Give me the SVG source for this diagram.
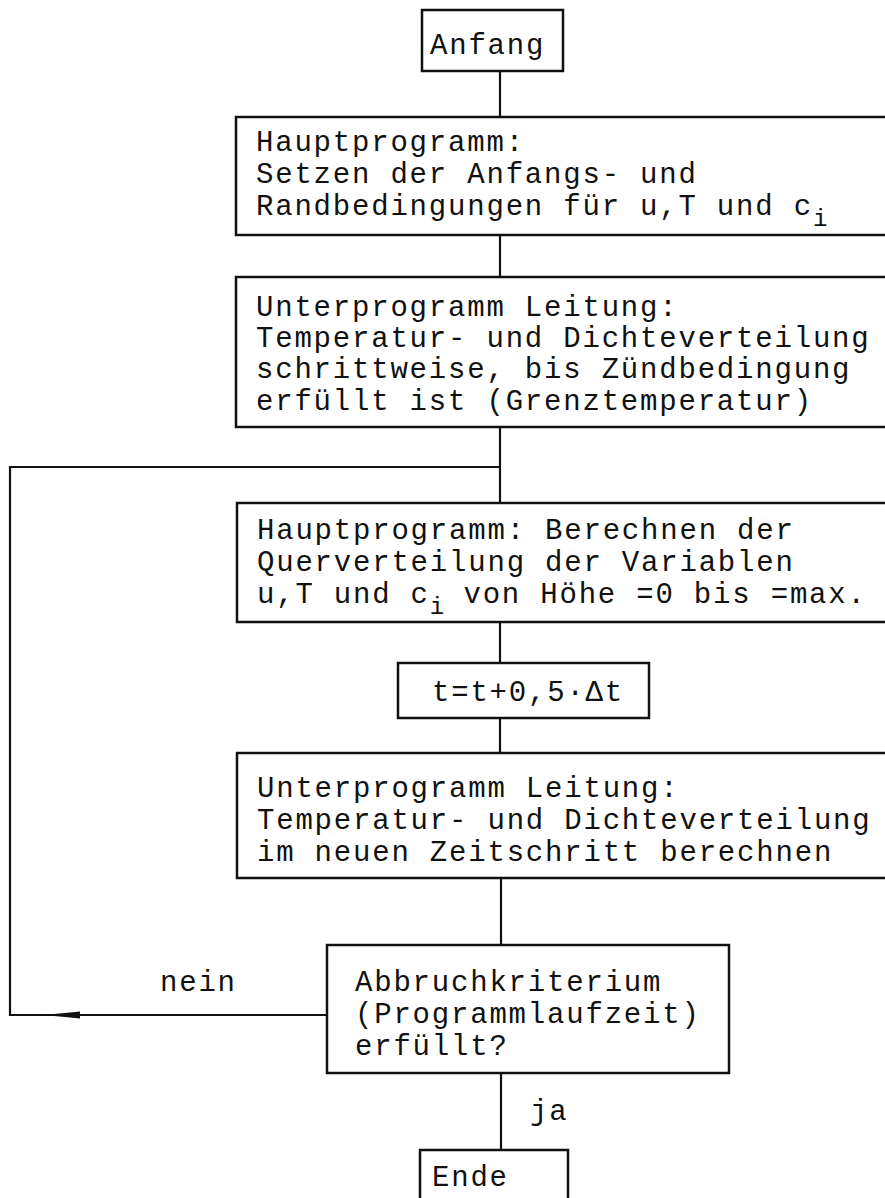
<svg xmlns="http://www.w3.org/2000/svg" width="885" height="1198" viewBox="0 0 885 1198">
<style>
.box{fill:#fff;stroke:#111;stroke-width:2.5}
.ln{fill:none;stroke:#111;stroke-width:2.2}
text{font-family:"Liberation Mono","Courier New",monospace;font-size:29px;letter-spacing:1.8px;fill:#111}
.sub{font-size:24px;letter-spacing:0}
</style>
<rect width="885" height="1198" fill="#fff"/>
<g id="connectors">
<path class="ln" d="M500 71V117"/>
<path class="ln" d="M500 235V277"/>
<path class="ln" d="M500 427V503"/>
<path class="ln" d="M500 622V663"/>
<path class="ln" d="M500 718V753"/>
<path class="ln" d="M501 878V945"/>
<path class="ln" d="M501 1073V1150"/>
<path class="ln" d="M327 1015H10V467H500"/>
<polygon points="44,1015 80,1011.5 80,1018.5" fill="#111"/>
<text x="530" y="1120">ja</text>
<text x="160" y="991">nein</text>
</g>
<g id="anfang">
<rect class="box" x="422" y="10" width="141" height="61"/>
<text x="430" y="54">Anfang</text>
</g>
<g id="haupt1">
<rect class="box" x="236" y="117" width="660" height="118"/>
<text x="256" y="151">Hauptprogramm:</text>
<text x="256" y="183">Setzen der Anfangs- und</text>
<text x="256" y="215">Randbedingungen für u,T und c<tspan class="sub" dy="11">i</tspan></text>
</g>
<g id="leitung1">
<rect class="box" x="236" y="277" width="660" height="150"/>
<text x="256" y="316">Unterprogramm Leitung:</text>
<text x="256" y="347">Temperatur- und Dichteverteilung</text>
<text x="256" y="378">schrittweise, bis Zündbedingung</text>
<text x="256" y="410">erfüllt ist (Grenztemperatur)</text>
</g>
<g id="haupt2">
<rect class="box" x="237" y="503" width="660" height="119"/>
<text x="257" y="539">Hauptprogramm: Berechnen der</text>
<text x="257" y="571">Querverteilung der Variablen</text>
<text x="257" y="603">u,T und c<tspan class="sub" dy="11">i</tspan><tspan dy="-11"> von Höhe =0 bis =max.</tspan></text>
</g>
<g id="zeitschritt">
<rect class="box" x="398" y="663" width="251" height="55"/>
<text x="432" y="701">t=t+0,5·Δt</text>
</g>
<g id="leitung2">
<rect class="box" x="237" y="753" width="660" height="125"/>
<text x="257" y="797">Unterprogramm Leitung:</text>
<text x="257" y="829">Temperatur- und Dichteverteilung</text>
<text x="257" y="861">im neuen Zeitschritt berechnen</text>
</g>
<g id="abbruch">
<rect class="box" x="327" y="945" width="402" height="128"/>
<text x="355" y="991">Abbruchkriterium</text>
<text x="355" y="1023">(Programmlaufzeit)</text>
<text x="355" y="1055">erfüllt?</text>
</g>
<g id="ende">
<rect class="box" x="420" y="1150" width="148" height="60"/>
<text x="432" y="1186">Ende</text>
</g>
</svg>
